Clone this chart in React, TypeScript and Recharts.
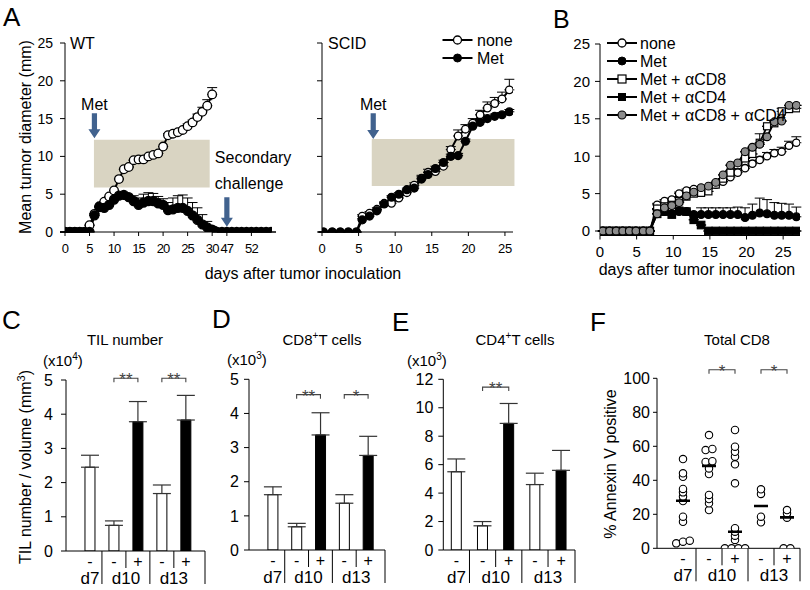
import React from 'react';
import {
  ComposedChart,
  Line,
  Bar,
  Cell,
  Scatter,
  XAxis,
  YAxis,
  ErrorBar,
  ReferenceArea,
  ReferenceLine,
} from 'recharts';

const FONT = '"Liberation Sans", Arial, Helvetica, sans-serif';
const ARROW_BLUE = '#41628e';
const BOX_FILL = '#d9d4c2';
const GRAY_DOT = '#8c8c8c';

// ---------- A: WT (days after 31 sit behind an axis break) ----------
const wtDays = [0, 1, 2, 3, 4, 5, 6, 7, 8, 9, 10, 11, 12, 13, 14, 15, 16, 17, 18, 19, 20, 21, 22, 23, 24, 25, 26, 27, 28, 29, 30, 31, 46, 47, 48, 49, 50, 51, 52, 53, 54, 55, 56];
const wtNone = [0, 0, 0, 0, 0, 0.9, 2.4, 3.4, 4.0, 4.7, 5.5, 7.0, 8.3, 8.6, 9.5, 9.6, 9.6, 10.0, 10.2, 10.4, 11.3, 12.8, 13.0, 13.2, 13.5, 14.0, 14.5, 15.2, 15.9, 16.7, 18.2];
const wtNoneErr = [0, 0, 0, 0, 0, 0, 0, 0, 0, 0, 0, 0, 0, 0, 0, 0, 0, 0, 0, 0, 0, 0.2, 0.2, 0.2, 0.2, 0.3, 0.3, 0.4, 0.6, 0.8, 0.9];
const wtMet = [0, 0, 0, 0, 0, 0, 2.2, 3.3, 3.2, 3.6, 4.3, 4.8, 4.9, 4.6, 4.1, 3.6, 3.9, 4.1, 4.1, 3.8, 3.6, 2.9, 3.0, 3.2, 3.2, 2.8, 2.2, 1.6, 1.0, 0.6, 0.3, 0, 0, 0, 0, 0, 0, 0, 0, 0, 0, 0, 0];
const wtMetErr = [0, 0, 0, 0, 0, 0, 0, 0, 0, 0, 0, 0, 0, 0, 0.7, 0.9, 1.1, 1.1, 1.0, 0.9, 0.8, 1.0, 1.5, 1.6, 1.7, 1.7, 1.7, 1.6, 1.3, 0.8, 0.4, 0, 0, 0, 0, 0, 0, 0, 0, 0, 0, 0, 0];
const wtTickDays = [0, 5, 10, 15, 20, 25, 30, 47, 52];

// ---------- A: SCID ----------
const scDays = [0.2, 1.4, 2.5, 3.6, 4.7, 5.5, 6.5, 7.5, 8.5, 9.5, 10.5, 11.6, 12.6, 13.6, 14.5, 15.5, 16.6, 17.6, 18.6, 19.6, 20.6, 21.6, 22.6, 23.6, 24.6, 25.6];
const scNone = [0, 0, 0, 0, 0, 2.1, 2.5, 3.0, 3.8, 3.8, 4.5, 5.2, 6.2, 7.1, 7.9, 8.0, 8.7, 10.9, 12.7, 13.6, 14.4, 15.5, 16.4, 17.0, 17.6, 18.8];
const scNoneErr = [0, 0, 0, 0, 0, 0.2, 0.2, 0.2, 0.2, 0.2, 0.3, 0.3, 0.3, 0.4, 0.4, 0.4, 0.5, 0.4, 0.8, 0.6, 0.6, 0.6, 0.8, 0.8, 0.9, 1.4];
const scMet = [0, 0, 0, 0, 0, 1.6, 2.1, 2.8, 3.7, 4.6, 5.0, 5.6, 5.8, 7.0, 7.6, 8.4, 9.2, 10.0, 10.1, 12.0, 14.0, 14.5, 15.0, 15.3, 15.5, 15.9];
const scMetErr = [0, 0, 0, 0, 0, 0.2, 0.2, 0.2, 0.2, 0.2, 0.2, 0.2, 0.3, 0.3, 0.3, 0.3, 0.3, 0.3, 0.3, 0.3, 0.3, 0.3, 0.3, 0.3, 0.3, 0.3];
const scTickDays = [0, 5, 10, 15, 20, 25];

// ---------- B ----------
const bDays = [0.4, 1.3, 2.2, 3.1, 4.0, 4.9, 5.9, 6.8, 7.8, 8.8, 9.8, 10.8, 11.8, 12.8, 13.8, 14.8, 15.8, 16.8, 17.8, 18.8, 19.8, 20.8, 21.8, 22.8, 23.8, 24.8, 25.8, 26.8];
const bNone = [0, 0, 0, 0, 0, 0, 0, 0, 3.5, 4.0, 4.2, 5.0, 5.4, 5.6, 5.7, 5.8, 6.2, 6.6, 7.2, 7.8, 8.4, 9.0, 9.5, 10.0, 10.4, 10.6, 11.4, 11.8];
const bNoneErr = [0, 0, 0, 0, 0, 0, 0, 0, 0.2, 0.2, 0.2, 0.2, 0.2, 0.2, 0.2, 0.3, 0.3, 0.3, 0.3, 0.3, 0.4, 0.4, 0.4, 0.5, 0.5, 0.6, 0.6, 0.8];
const bMet = [0, 0, 0, 0, 0, 0, 0, 0, 2.9, 2.6, 2.3, 2.6, 2.6, 2.2, 2.2, 2.2, 2.2, 2.2, 2.2, 2.2, 1.8, 2.1, 2.4, 2.3, 2.1, 2.1, 2.1, 1.9];
const bMetErr = [0, 0, 0, 0, 0, 0, 0, 0, 0, 0, 0, 0, 0, 0, 0.9, 0.9, 0.9, 0.9, 0.9, 1.0, 1.3, 1.5, 2.0, 1.9, 1.7, 1.6, 1.5, 1.3];
const bCd8 = [0, 0, 0, 0, 0, 0, 0, 0, 3.0, 3.3, 3.5, 4.0, 4.6, 5.0, 5.1, 5.3, 6.2, 7.0, 7.8, 8.8, 9.7, 10.3, 11.8, 14.0, 14.4, 16.0, 16.3, 16.4];
const bCd8Err = [0, 0, 0, 0, 0, 0, 0, 0, 0, 0, 0, 0, 0, 0, 0, 0, 0, 0, 0, 0, 0, 0, 1.2, 0, 0, 0.4, 0, 0.4];
const bCd4 = [0, 0, 0, 0, 0, 0, 0, 0, 2.3, 2.6, 2.2, 2.7, 2.6, 1.5, 0.8, 0, 0, 0, 0, 0, 0, 0, 0, 0, 0, 0, 0, 0];
const bBoth = [0, 0, 0, 0, 0, 0, 0, 0, 2.3, 3.1, 3.4, 3.8, 4.7, 5.2, 5.8, 6.0, 6.5, 7.5, 8.8, 9.1, 10.6, 11.2, 11.6, 12.6, 14.6, 14.7, 16.8, 16.8];
const bTickDays = [0, 5, 10, 15, 20, 25];

// ---------- C/D/E/F categories ----------
const groups = [
  { label: 'd7', signs: ['-'] },
  { label: 'd10', signs: ['-', '+'] },
  { label: 'd13', signs: ['-', '+'] },
];
const signs = groups.flatMap((g) => g.signs);

const tilValues = [2.45, 0.75, 3.78, 1.68, 3.83];
const tilErr = [0.35, 0.13, 0.59, 0.25, 0.72];
const cd8Values = [1.62, 0.68, 3.37, 1.37, 2.77];
const cd8Err = [0.23, 0.1, 0.65, 0.25, 0.56];
const cd4Values = [5.5, 1.7, 8.9, 4.6, 5.6];
const cd4Err = [0.9, 0.3, 1.4, 0.8, 1.4];

const fD7 = [52.5, 44.1, 42.1, 34.9, 32.9, 30.4, 27.8, 18.6, 15.6, 4.5, 2.9, 3.9];
const fD10Minus = [66.6, 58.4, 57.8, 51.2, 50.8, 47.0, 43.7, 31.4, 29.0, 26.5, 22.5];
const fD10Plus = [69.6, 59.8, 56.8, 53.9, 49.4, 38.2, 11.8, 9.8, 7.4, 4.9, 0, 0, 0, 0];
const fD13Minus = [34.7, 32.0, 18.6, 15.3];
const fD13Plus = [22.5, 20.6, 18.0, 0, 0];
const fMeans = [28, 48.5, 9.7, 24.9, 18.2];

const tickStyle = (size: number, spacing = 0) => ({ fontSize: size, fill: '#000', fontFamily: FONT, letterSpacing: spacing });

// markers
const circleDot = (r: number, fill: string, sw = 1.3) => (p: any) => (
  <circle key={p.index} cx={p.cx} cy={p.cy} r={r} fill={fill} stroke="#000" strokeWidth={sw} />
);
const squareDot = (s: number, fill: string) => (p: any) => (
  <rect key={p.index} x={p.cx - s / 2} y={p.cy - s / 2} width={s} height={s} fill={fill} stroke="#000" strokeWidth={1.2} />
);

const arrowShape = (lines: string[], anchor: 'middle' | 'start', gap: number) => (p: any) => {
  const { x1, y1, y2 } = p;
  const head = 9;
  const half = 6;
  const shaft = 2.6;
  const tx = anchor === 'middle' ? x1 : x1 - 12;
  return (
    <g>
      <path
        d={`M${x1 - shaft},${y1} H${x1 + shaft} V${y2 - head} H${x1 + half} L${x1},${y2} L${x1 - half},${y2 - head} H${x1 - shaft} Z`}
        fill={ARROW_BLUE}
      />
      {lines.map((s, i) => (
        <text key={i} x={tx} y={y1 - gap - (lines.length - 1 - i) * 26} textAnchor={anchor} fontSize={16} fontFamily={FONT} fill="#000">
          {s}
        </text>
      ))}
    </g>
  );
};

const bracketShape = (label: string) => (p: any) => {
  const { x1, x2, y1 } = p;
  return (
    <g>
      <path d={`M${x1},${y1 + 4} V${y1} H${x2} V${y1 + 4}`} fill="none" stroke="#444" strokeWidth={1.1} />
      <text x={(x1 + x2) / 2} y={y1 + 7} textAnchor="middle" fontSize={17} fontFamily={FONT} fill="#444" stroke="none">
        {label}
      </text>
    </g>
  );
};

// ---------- helpers for the grouped category axis ----------
type TickMeta = { sign?: string; group?: string; sep?: 'long' | 'short' };

function buildTicks(offset: number, xMax: number) {
  const ticks: number[] = [];
  const meta: TickMeta[] = [];
  let i = 0;
  groups.forEach((g, gi) => {
    const n = g.signs.length;
    g.signs.forEach((s, k) => {
      ticks.push(offset + i);
      meta.push({ sign: s, group: n === 1 ? g.label : undefined });
      if (k < n - 1) {
        ticks.push(offset + i + 0.5);
        meta.push({ sep: 'short', group: g.label });
      }
      i++;
    });
    ticks.push(gi === groups.length - 1 ? xMax : offset + i - 0.5);
    meta.push({ sep: 'long' });
  });
  return { ticks, meta };
}

const makeCatTick = (ticks: number[], meta: TickMeta[]) => (p: any) => {
  const idx = ticks.findIndex((t) => Math.abs(t - p.payload.value) < 1e-6);
  const m = meta[idx];
  if (!m) return <g />;
  const { x, y } = p;
  return (
    <g fontFamily={FONT} fill="#000">
      {m.sign && (
        <text x={x} y={y + 16} textAnchor="middle" fontSize={16}>
          {m.sign}
        </text>
      )}
      {m.sep && <line x1={x} x2={x} y1={y} y2={y + (m.sep === 'long' ? 33 : 17)} stroke="#000" strokeWidth={1} />}
      {m.group && (
        <text x={x} y={y + 33} textAnchor="middle" fontSize={17}>
          {m.group}
        </text>
      )}
    </g>
  );
};

// ---------- panel A ----------
const wtBreak = (d: number) => (d > 31 ? d - 14 : d);
const wtUnbreak = (v: number) => (v > 31 ? v + 14 : v);
const wtNoneData = wtNone.map((y, i) => ({ x: wtBreak(wtDays[i]), y, e: [0, wtNoneErr[i]] }));
const wtMetData = wtMet.map((y, i) => ({ x: wtBreak(wtDays[i]), y, e: [0, wtMetErr[i]] }));
const scNoneData = scNone.map((y, i) => ({ x: scDays[i], y, e: [0, scNoneErr[i]] }));
const scMetData = scMet.map((y, i) => ({ x: scDays[i], y, e: [0, scMetErr[i]] }));

const emptyTick = () => <g />;

function WtPanel() {
  return (
    <ComposedChart width={300} height={290} margin={{ top: 43, right: 28, bottom: 0, left: 0 }}>
      <XAxis
        type="number"
        dataKey="x"
        domain={[0, 42.2]}
        allowDataOverflow
        ticks={wtTickDays.map(wtBreak)}
        tickFormatter={(v: number) => String(wtUnbreak(v))}
        interval={0}
        height={58}
        tickSize={4}
        tickMargin={8}
        stroke="#000"
        tick={tickStyle(13, -0.9)}
      />
      <YAxis type="number" domain={[0, 25]} allowDataOverflow ticks={[0, 5, 10, 15, 20, 25]} width={65} tickSize={5} tickMargin={7} stroke="#000" tick={tickStyle(14)} />
      <ReferenceArea x1={5.9} x2={29.5} y1={5.9} y2={12.2} fill={BOX_FILL} fillOpacity={1} stroke="none" ifOverflow="visible" />
      <ReferenceLine segment={[{ x: 6, y: 15.7 }, { x: 6, y: 12.4 }]} shape={arrowShape(['Met'], 'middle', 3)} ifOverflow="visible" />
      <ReferenceLine
        segment={[{ x: wtBreak(47), y: 4.6 }, { x: wtBreak(47), y: 0.7 }]}
        shape={arrowShape(['Secondary', 'challenge'], 'start', 8)}
        ifOverflow="visible"
      />
      <Line data={wtNoneData} dataKey="y" type="linear" stroke="#000" strokeWidth={2} dot={circleDot(4.3, '#fff')} isAnimationActive={false}>
        <ErrorBar dataKey="e" width={5} stroke="#000" strokeWidth={1} />
      </Line>
      <Line data={wtMetData} dataKey="y" type="linear" stroke="#000" strokeWidth={2.2} dot={circleDot(4.5, '#000')} isAnimationActive={false}>
        <ErrorBar dataKey="e" width={5} stroke="#000" strokeWidth={1} />
      </Line>
    </ComposedChart>
  );
}

function ScidPanel() {
  return (
    <ComposedChart width={250} height={290} margin={{ top: 43, right: 7, bottom: 0, left: 0 }}>
      <XAxis type="number" dataKey="x" domain={[0, 26.1]} allowDataOverflow ticks={scTickDays} interval={0} height={58} tickSize={4} tickMargin={8} stroke="#000" tick={tickStyle(13, -0.4)} />
      <YAxis type="number" domain={[0, 25]} allowDataOverflow ticks={[0, 5, 10, 15, 20, 25]} width={52} tickSize={5} stroke="#000" tick={emptyTick} />
      <ReferenceArea x1={6.8} x2={26.3} y1={6.1} y2={12.3} fill={BOX_FILL} fillOpacity={1} stroke="none" ifOverflow="visible" />
      <ReferenceLine segment={[{ x: 7, y: 15.7 }, { x: 7, y: 12.3 }]} shape={arrowShape(['Met'], 'middle', 3)} ifOverflow="visible" />
      <Line data={scNoneData} dataKey="y" type="linear" stroke="#000" strokeWidth={2} dot={circleDot(3.8, '#fff')} isAnimationActive={false}>
        <ErrorBar dataKey="e" width={5} stroke="#000" strokeWidth={1} />
      </Line>
      <Line data={scMetData} dataKey="y" type="linear" stroke="#000" strokeWidth={2} dot={circleDot(3.9, '#000')} isAnimationActive={false}>
        <ErrorBar dataKey="e" width={5} stroke="#000" strokeWidth={1} />
      </Line>
    </ComposedChart>
  );
}

// ---------- panel B ----------
const toB = (vals: number[], errs?: number[]) => vals.map((y, i) => ({ x: bDays[i], y, e: [0, errs ? errs[i] : 0] }));

function BPanel() {
  const series = [
    { data: toB(bNone, bNoneErr), dot: circleDot(3.7, '#fff') },
    { data: toB(bMet, bMetErr), dot: circleDot(3.9, '#000') },
    { data: toB(bCd8, bCd8Err), dot: squareDot(7, '#fff') },
    { data: toB(bCd4), dot: squareDot(7.5, '#000') },
    { data: toB(bBoth), dot: circleDot(3.9, GRAY_DOT, 1.1) },
  ];
  return (
    <ComposedChart width={265} height={290} margin={{ top: 44, right: 10, bottom: 0, left: 0 }}>
      <XAxis type="number" dataKey="x" domain={[0, 27.3]} allowDataOverflow ticks={bTickDays} interval={0} height={54.5} tickSize={4} tickMargin={7} stroke="#000" tick={tickStyle(15)} />
      <YAxis type="number" domain={[-0.6, 25]} allowDataOverflow ticks={[0, 5, 10, 15, 20, 25]} width={55} tickSize={5} tickMargin={5} stroke="#000" tick={tickStyle(15)} />
      {series.map((s, i) => (
        <Line key={i} data={s.data} dataKey="y" type="linear" stroke="#000" strokeWidth={1.8} dot={s.dot} isAnimationActive={false}>
          <ErrorBar dataKey="e" width={5} stroke="#000" strokeWidth={1} />
        </Line>
      ))}
    </ComposedChart>
  );
}

// ---------- panels C, D, E ----------
type Bracket = { a: number; b: number; y: number; t: string };

function BarPanel(props: {
  values: number[];
  errs: number[];
  yMax: number;
  yTicks: number[];
  width: number;
  yAxisWidth: number;
  marginTop: number;
  marginRight: number;
  axisHeight: number;
  offset: number;
  xMax: number;
  tickMargin: number;
  brackets: Bracket[];
}) {
  const { values, errs, yMax, yTicks, width, yAxisWidth, marginTop, marginRight, axisHeight, offset, xMax, tickMargin, brackets } = props;
  const rows = signs.map((s, i) => ({ x: offset + i, y: values[i], e: [0, errs[i]], s }));
  const { ticks, meta } = buildTicks(offset, xMax);
  return (
    <ComposedChart width={width} height={290} data={rows} margin={{ top: marginTop, right: marginRight, bottom: 0, left: 0 }}>
      <XAxis
        type="number"
        dataKey="x"
        domain={[0, xMax]}
        allowDataOverflow
        ticks={ticks}
        interval={0}
        tickLine={false}
        tickSize={0}
        tickMargin={0}
        height={axisHeight}
        stroke="#000"
        tick={makeCatTick(ticks, meta)}
      />
      <YAxis type="number" domain={[0, yMax]} allowDataOverflow ticks={yTicks} width={yAxisWidth} tickSize={5} tickMargin={tickMargin} stroke="#000" tick={tickStyle(16)} />
      <Bar dataKey="y" barSize={10} stroke="#000" strokeWidth={1} isAnimationActive={false}>
        {rows.map((r, i) => (
          <Cell key={i} fill={r.s === '+' ? '#000' : '#fff'} />
        ))}
        <ErrorBar dataKey="e" width={9} stroke="#333" strokeWidth={1.2} />
      </Bar>
      {brackets.map((b, i) => (
        <ReferenceLine
          key={i}
          segment={[{ x: offset + b.a, y: b.y }, { x: offset + b.b, y: b.y }]}
          shape={bracketShape(b.t)}
          ifOverflow="visible"
        />
      ))}
    </ComposedChart>
  );
}

// ---------- panel F ----------
function spread(vals: number[], center: number, gap = 1.5, step = 0.26) {
  const sorted = [...vals].sort((a, b) => a - b);
  const out: { x: number; y: number }[] = [];
  let i = 0;
  while (i < sorted.length) {
    let j = i;
    while (j + 1 < sorted.length && sorted[j + 1] - sorted[j] < gap) j++;
    const n = j - i + 1;
    for (let k = 0; k < n; k++) out.push({ x: center + (k - (n - 1) / 2) * step, y: sorted[i + k] });
    i = j + 1;
  }
  return out;
}

const fGroups = [fD7, fD10Minus, fD10Plus, fD13Minus, fD13Plus];

function FPanel() {
  const offset = 1;
  const xMax = 5.5;
  const points = fGroups.flatMap((vals, i) => spread(vals, offset + i));
  const means = fMeans.map((y, i) => ({ x: offset + i, y }));
  const { ticks, meta } = buildTicks(offset, xMax);
  const openDot = (p: any) => <circle cx={p.cx} cy={p.cy} r={3.7} fill="#fff" stroke="#000" strokeWidth={1.1} />;
  const meanDash = (p: any) => <line x1={p.cx - 7} x2={p.cx + 7} y1={p.cy} y2={p.cy} stroke="#000" strokeWidth={2.6} />;
  const brackets: Bracket[] = [
    { a: 1, b: 2, y: 105, t: '*' },
    { a: 3, b: 4, y: 105, t: '*' },
  ];
  return (
    <ComposedChart width={210} height={290} margin={{ top: 78.3, right: 10, bottom: 0, left: 0 }}>
      <XAxis
        type="number"
        dataKey="x"
        domain={[0, xMax]}
        allowDataOverflow
        ticks={ticks}
        interval={0}
        tickLine={false}
        tickSize={0}
        tickMargin={0}
        height={41.7}
        stroke="#000"
        tick={makeCatTick(ticks, meta)}
      />
      <YAxis type="number" dataKey="y" domain={[0, 100]} allowDataOverflow ticks={[0, 20, 40, 60, 80, 100]} width={57} tickSize={4} tickMargin={3} stroke="#000" tick={tickStyle(16)} />
      <Scatter data={points} shape={openDot} isAnimationActive={false} />
      <Scatter data={means} shape={meanDash} isAnimationActive={false} />
      {brackets.map((b, i) => (
        <ReferenceLine
          key={i}
          segment={[{ x: offset + b.a, y: b.y }, { x: offset + b.b, y: b.y }]}
          shape={bracketShape(b.t)}
          ifOverflow="visible"
        />
      ))}
    </ComposedChart>
  );
}

// ---------- text overlay (panel letters, titles, legends) ----------
function LegendMark({ kind, x, y }: { kind: string; x: number; y: number }) {
  const line = <line x1={x - 15} x2={x + 15} y1={y} y2={y} stroke="#000" strokeWidth={2} />;
  let m: React.ReactNode = null;
  if (kind === 'open') m = <circle cx={x} cy={y} r={4} fill="#fff" stroke="#000" strokeWidth={1.3} />;
  if (kind === 'filled') m = <circle cx={x} cy={y} r={4} fill="#000" stroke="#000" />;
  if (kind === 'gray') m = <circle cx={x} cy={y} r={4} fill={GRAY_DOT} stroke="#000" strokeWidth={1.1} />;
  if (kind === 'openSq') m = <rect x={x - 4} y={y - 4} width={8} height={8} fill="#fff" stroke="#000" strokeWidth={1.2} />;
  if (kind === 'filledSq') m = <rect x={x - 4} y={y - 4} width={8} height={8} fill="#000" />;
  return (
    <g>
      {line}
      {m}
    </g>
  );
}

const scidLegend = [
  { kind: 'open', label: 'none' },
  { kind: 'filled', label: 'Met' },
];
const bLegend = [
  { kind: 'open', label: 'none' },
  { kind: 'filled', label: 'Met' },
  { kind: 'openSq', label: 'Met + αCD8' },
  { kind: 'filledSq', label: 'Met + αCD4' },
  { kind: 'gray', label: 'Met + αCD8 + αCD4' },
];

function Overlay() {
  return (
    <svg width={810} height={590} style={{ position: 'absolute', left: 0, top: 0, pointerEvents: 'none' }} fontFamily={FONT} fill="#000">
      {/* panel letters */}
      <text x={3} y={26} fontSize={26}>A</text>
      <text x={553} y={28} fontSize={25}>B</text>
      <text x={2} y={329} fontSize={26}>C</text>
      <text x={212} y={328} fontSize={26}>D</text>
      <text x={392} y={331} fontSize={26}>E</text>
      <text x={590} y={331} fontSize={26}>F</text>

      {/* panel A */}
      <text x={70} y={49} fontSize={16}>WT</text>
      <text x={328} y={49} fontSize={16}>SCID</text>
      <text transform="translate(31,137) rotate(-90)" textAnchor="middle" fontSize={16}>Mean tumor diameter (mm)</text>
      <text x={303} y={279} textAnchor="middle" fontSize={16}>days after tumor inoculation</text>
      {scidLegend.map((l, i) => (
        <g key={l.label}>
          <LegendMark kind={l.kind} x={457.5} y={40 + i * 18} />
          <text x={477} y={45.5 + i * 18} fontSize={16}>{l.label}</text>
        </g>
      ))}

      {/* panel B */}
      <text x={697} y={275} textAnchor="middle" fontSize={16}>days after tumor inoculation</text>
      {bLegend.map((l, i) => (
        <g key={l.label}>
          <LegendMark kind={l.kind} x={622} y={43 + i * 18} />
          <text x={640} y={48.5 + i * 18} fontSize={16}>{l.label}</text>
        </g>
      ))}

      {/* panel C */}
      <text x={125} y={345} textAnchor="middle" fontSize={15}>TIL number</text>
      <text x={43} y={366} fontSize={15}>
        (x10<tspan fontSize={10} dy={-6}>4</tspan>
        <tspan dy={6}>)</tspan>
      </text>
      <text transform="translate(31,467) rotate(-90)" textAnchor="middle" fontSize={16}>
        TIL number / volume (mm<tspan fontSize={11} dy={-6}>3</tspan>
        <tspan dy={6}>)</tspan>
      </text>

      {/* panel D */}
      <text x={322} y={345} textAnchor="middle" fontSize={15}>
        CD8<tspan fontSize={10} dy={-6}>+</tspan>
        <tspan dy={6}>T cells</tspan>
      </text>
      <text x={227} y={365} fontSize={15}>
        (x10<tspan fontSize={10} dy={-6}>3</tspan>
        <tspan dy={6}>)</tspan>
      </text>

      {/* panel E */}
      <text x={515} y={345} textAnchor="middle" fontSize={15}>
        CD4<tspan fontSize={10} dy={-6}>+</tspan>
        <tspan dy={6}>T cells</tspan>
      </text>
      <text x={407} y={366} fontSize={15}>
        (x10<tspan fontSize={10} dy={-6}>3</tspan>
        <tspan dy={6}>)</tspan>
      </text>

      {/* panel F */}
      <text x={737} y={345} textAnchor="middle" fontSize={15}>Total CD8</text>
      <text transform="translate(616,464) rotate(-90)" textAnchor="middle" fontSize={16}>% Annexin V positive</text>
    </svg>
  );
}

const at = (left: number, top: number, child: React.ReactNode) => (
  <div style={{ position: 'absolute', left, top }}>{child}</div>
);

export default function App() {
  return (
    <div style={{ position: 'absolute', left: 0, top: 0, width: 810, height: 590, background: '#fff', fontFamily: FONT, overflow: 'hidden' }}>
      {at(0, 0, <WtPanel />)}
      {at(270, 0, <ScidPanel />)}
      {at(545, 0, <BPanel />)}
      {at(
        0,
        300,
        <BarPanel
          values={tilValues}
          errs={tilErr}
          yMax={5}
          yTicks={[0, 1, 2, 3, 4, 5]}
          width={215}
          yAxisWidth={66}
          marginTop={80}
          marginRight={10}
          axisHeight={39}
          offset={1}
          xMax={5.8}
          tickMargin={8}
          brackets={[
            { a: 1, b: 2, y: 5.05, t: '**' },
            { a: 3, b: 4, y: 5.05, t: '**' },
          ]}
        />
      )}
      {at(
        215,
        300,
        <BarPanel
          values={cd8Values}
          errs={cd8Err}
          yMax={5}
          yTicks={[0, 1, 2, 3, 4, 5]}
          width={185}
          yAxisWidth={34}
          marginTop={79.3}
          marginRight={15}
          axisHeight={40}
          offset={1}
          xMax={5.71}
          tickMargin={5}
          brackets={[
            { a: 1, b: 2, y: 4.55, t: '**' },
            { a: 3, b: 4, y: 4.55, t: '*' },
          ]}
        />
      )}
      {at(
        400,
        300,
        <BarPanel
          values={cd4Values}
          errs={cd4Err}
          yMax={12}
          yTicks={[0, 2, 4, 6, 8, 10, 12]}
          width={185}
          yAxisWidth={43.3}
          marginTop={79.3}
          marginRight={10}
          axisHeight={40}
          offset={0.5}
          xMax={5.03}
          tickMargin={5}
          brackets={[{ a: 1, b: 2, y: 11.45, t: '**' }]}
        />
      )}
      {at(600, 300, <FPanel />)}
      <Overlay />
    </div>
  );
}
